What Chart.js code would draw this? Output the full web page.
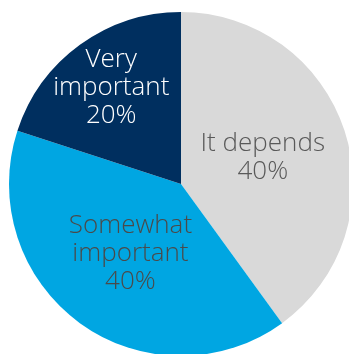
<!DOCTYPE html>
<html>
<head>
<meta charset="utf-8">
<script src="https://cdn.jsdelivr.net/npm/chart.js"></script>
<style>
  html, body { margin: 0; padding: 0; background: #fff; overflow: hidden; }
  body { width: 349px; height: 354px; position: relative; }
  #wrap { position: absolute; left: 9px; top: 12px; width: 344px; height: 344px; }
</style>
</head>
<body>
<div id="wrap"><canvas id="pie"></canvas></div>
<script>
const labels = [["It depends"], ["Somewhat", "important"], ["Very", "important"]];
const shares = [40, 40, 20];
const colors = ["#d9d9d9", "#00a6e2", "#002f5f"];
const textColors = ["#595959", "#4a4a4a", "#ffffff"];
const labelRadius = [0.5, 0.5, 0.69];

// writes each slice's name and percentage inside it
const sliceLabels = {
  id: "sliceLabels",
  afterDatasetsDraw(chart) {
    const ctx = chart.ctx;
    const meta = chart.getDatasetMeta(0);
    ctx.save();
    ctx.font = "300 26px 'Open Sans', sans-serif";
    ctx.textAlign = "center";
    ctx.textBaseline = "middle";
    meta.data.forEach((arc, i) => {
      const mid = (arc.startAngle + arc.endAngle) / 2;
      const r = arc.outerRadius * labelRadius[i];
      const x = arc.x + Math.cos(mid) * r;
      const y = arc.y + Math.sin(mid) * r;
      const lines = labels[i].concat([shares[i] + "%"]);
      const lh = 28;
      const top = y - (lines.length - 1) * lh / 2;
      ctx.fillStyle = textColors[i];
      lines.forEach((t, j) => ctx.fillText(t, x, top + j * lh));
    });
    ctx.restore();
  }
};

new Chart(document.getElementById("pie"), {
  type: "pie",
  data: {
    labels: labels.map(l => l.join(" ")),
    datasets: [{
      data: shares,
      backgroundColor: colors,
      borderWidth: 0
    }]
  },
  options: {
    responsive: true,
    maintainAspectRatio: false,
    animation: false,
    layout: { padding: 0 },
    plugins: {
      legend: { display: false },
      tooltip: { enabled: false }
    }
  },
  plugins: [sliceLabels]
});
</script>
</body>
</html>
